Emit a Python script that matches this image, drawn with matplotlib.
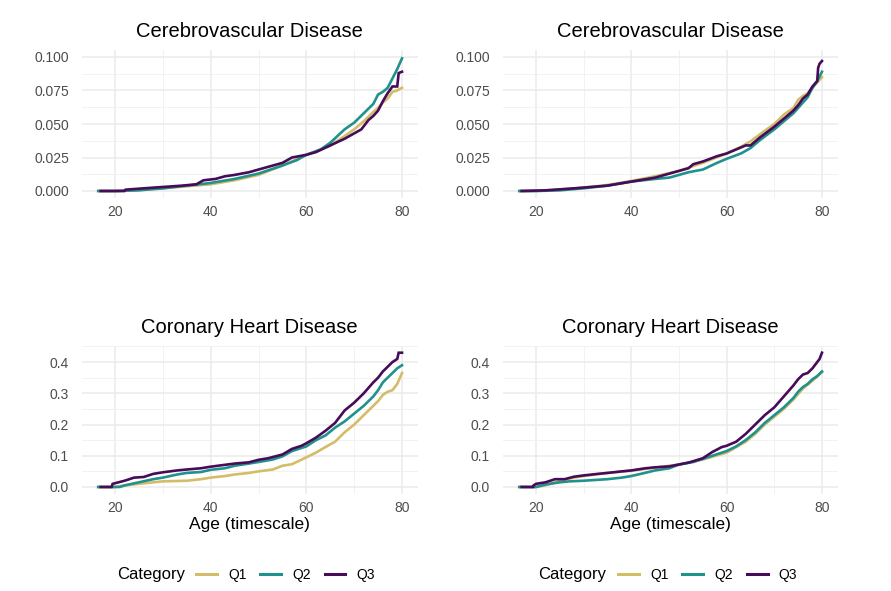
import numpy as np
import matplotlib.pyplot as plt
from matplotlib.lines import Line2D
from matplotlib.ticker import FormatStrFormatter, MultipleLocator

plt.rcParams['font.family'] = ['Liberation Sans', 'DejaVu Sans']

categories = ['Q1', 'Q2', 'Q3']
colors = {'Q1': '#D3BD69', 'Q2': '#21918C', 'Q3': '#470B59'}

# Cerebrovascular disease, left column
cv_left_age = {
    'Q1': [16.5, 20, 25, 30, 35, 40, 45, 50, 55, 60, 63, 65, 68, 70, 72, 74, 75, 76, 77, 78, 79, 80],
    'Q2': [16.5, 20, 25, 30, 35, 40, 45, 50, 55, 58, 60, 63, 65, 68, 70, 72, 74, 75, 76, 77, 78, 79, 80],
    'Q3': [17, 22, 22.2, 26, 30, 34, 37, 38.5, 41, 43, 45, 48, 50, 53, 55, 57, 60, 62, 65, 68, 70, 71.5,
           73, 74, 75, 76, 77, 78, 79, 79.3, 80],
}
cv_left_val = {
    'Q1': [0, 0, 0.0008, 0.002, 0.0035, 0.005, 0.008, 0.012, 0.019, 0.027, 0.031, 0.034, 0.041, 0.046,
           0.052, 0.059, 0.062, 0.066, 0.069, 0.074, 0.075, 0.077],
    'Q2': [0, 0, 0.0005, 0.002, 0.004, 0.006, 0.009, 0.013, 0.019, 0.023, 0.027, 0.031, 0.036, 0.046,
           0.051, 0.058, 0.065, 0.072, 0.074, 0.077, 0.084, 0.091, 0.099],
    'Q3': [0, 0, 0.001, 0.002, 0.003, 0.004, 0.005, 0.008, 0.009, 0.011, 0.012, 0.014, 0.016, 0.019,
           0.021, 0.025, 0.027, 0.029, 0.034, 0.039, 0.043, 0.046, 0.053, 0.056, 0.060, 0.067, 0.073,
           0.078, 0.078, 0.088, 0.089],
}

# Cerebrovascular disease, right column
cv_right_age = {
    'Q1': [16.5, 20, 25, 30, 35, 40, 45, 50, 55, 60, 63, 65, 68, 70, 72, 74, 75, 76, 77, 78, 79, 80],
    'Q2': [16.5, 20, 25, 30, 35, 40, 45, 48, 50, 52, 55, 58, 60, 63, 65, 67, 70, 72, 74, 76, 77, 78, 79, 80],
    'Q3': [17, 22, 28, 35, 40, 45, 48, 50, 52, 53, 55, 58, 60, 62, 64, 65, 67, 70, 72, 74, 75, 76, 77,
           78, 79, 79.2, 79.5, 80],
}
cv_right_val = {
    'Q1': [0, 0, 0.001, 0.0025, 0.0045, 0.0075, 0.011, 0.015, 0.021, 0.028, 0.033, 0.037, 0.045, 0.050,
           0.057, 0.062, 0.068, 0.071, 0.073, 0.077, 0.081, 0.085],
    'Q2': [0, 0, 0.0005, 0.002, 0.004, 0.007, 0.009, 0.010, 0.012, 0.014, 0.016, 0.021, 0.024, 0.028,
           0.032, 0.038, 0.046, 0.052, 0.058, 0.066, 0.070, 0.077, 0.082, 0.089],
    'Q3': [0, 0.0005, 0.002, 0.004, 0.007, 0.010, 0.013, 0.015, 0.017, 0.020, 0.022, 0.026, 0.028,
           0.031, 0.034, 0.034, 0.040, 0.048, 0.054, 0.060, 0.064, 0.069, 0.072, 0.078, 0.082, 0.092,
           0.095, 0.097],
}

# Coronary heart disease, left column
chd_left_age = {
    'Q1': [16.5, 20, 22, 25, 28, 30, 35, 38, 40, 43, 45, 48, 50, 53, 55, 57, 60, 62, 64, 66, 68, 70,
           72, 74, 75, 76, 77, 78, 79, 80],
    'Q2': [16.5, 21, 22, 25, 28, 30, 33, 35, 38, 40, 43, 45, 48, 50, 53, 55, 57, 60, 62, 64, 66, 68,
           70, 72, 74, 75, 76, 77, 78, 79, 80],
    'Q3': [17, 19.3, 19.5, 20, 22, 24, 26, 28, 30, 33, 35, 38, 40, 43, 45, 48, 50, 52, 55, 57, 59, 60,
           62, 64, 66, 68, 70, 72, 74, 75, 76, 77, 78, 79, 79.3, 80],
}
chd_left_val = {
    'Q1': [0, 0, 0.005, 0.010, 0.015, 0.018, 0.020, 0.025, 0.030, 0.035, 0.040, 0.045, 0.050, 0.056,
           0.068, 0.073, 0.095, 0.110, 0.128, 0.145, 0.175, 0.200, 0.230, 0.260, 0.275, 0.295, 0.305,
           0.310, 0.330, 0.365],
    'Q2': [0, 0, 0.005, 0.015, 0.025, 0.030, 0.040, 0.045, 0.048, 0.055, 0.060, 0.068, 0.075, 0.080,
           0.088, 0.098, 0.115, 0.130, 0.150, 0.165, 0.190, 0.210, 0.235, 0.260, 0.290, 0.310, 0.335,
           0.350, 0.365, 0.380, 0.390],
    'Q3': [0, 0, 0.010, 0.012, 0.020, 0.030, 0.032, 0.042, 0.047, 0.053, 0.056, 0.060, 0.065, 0.071,
           0.075, 0.079, 0.087, 0.092, 0.104, 0.122, 0.132, 0.140, 0.158, 0.180, 0.205, 0.245, 0.270,
           0.300, 0.335, 0.350, 0.370, 0.385, 0.400, 0.410, 0.430, 0.430],
}

# Coronary heart disease, right column
chd_right_age = {
    'Q1': [16.5, 20, 22, 25, 28, 30, 35, 40, 45, 48, 50, 55, 60, 64, 66, 68, 70, 72, 74, 76, 78, 80],
    'Q2': [16.5, 20, 22, 25, 27, 30, 35, 38, 40, 42, 45, 48, 50, 53, 55, 57, 60, 62, 64, 66, 68, 70,
           72, 74, 75, 76, 77, 78, 79, 80],
    'Q3': [17, 19.4, 19.5, 20, 22, 24, 26, 28, 30, 33, 35, 38, 40, 43, 45, 48, 50, 52, 55, 57, 59, 60,
           62, 64, 66, 68, 70, 72, 74, 75, 76, 77, 78, 79, 79.5, 80],
}
chd_right_val = {
    'Q1': [0, 0, 0.005, 0.020, 0.030, 0.035, 0.045, 0.052, 0.062, 0.068, 0.072, 0.088, 0.110, 0.145,
           0.170, 0.200, 0.225, 0.250, 0.280, 0.315, 0.340, 0.368],
    'Q2': [0, 0, 0.008, 0.015, 0.018, 0.020, 0.025, 0.030, 0.035, 0.042, 0.053, 0.060, 0.072, 0.080,
           0.090, 0.100, 0.115, 0.130, 0.150, 0.175, 0.205, 0.230, 0.255, 0.285, 0.305, 0.320, 0.330,
           0.345, 0.355, 0.370],
    'Q3': [0, 0, 0.005, 0.010, 0.015, 0.025, 0.025, 0.033, 0.037, 0.042, 0.045, 0.050, 0.053, 0.060,
           0.063, 0.066, 0.072, 0.078, 0.092, 0.112, 0.128, 0.132, 0.145, 0.170, 0.200, 0.230, 0.255,
           0.290, 0.325, 0.345, 0.360, 0.365, 0.380, 0.400, 0.410, 0.430],
}

W, H = 891, 591
fig = plt.figure(figsize=(W / 100, H / 100), dpi=100)


def add_ax(left, right, top, bottom):
    return fig.add_axes([left / W, 1 - bottom / H, (right - left) / W, (bottom - top) / H])


def draw(ax, ages, vals, title, yticks, fmt, ylim, xlabel=False):
    for c in categories:
        ax.plot(ages[c], vals[c], color=colors[c], lw=1.9, solid_joinstyle='miter')
    ax.set_xlim(13, 83.3)
    ax.set_ylim(*ylim)
    ax.set_xticks([20, 40, 60, 80])
    ax.xaxis.set_minor_locator(MultipleLocator(10))
    ax.set_yticks(yticks)
    ax.yaxis.set_minor_locator(MultipleLocator((yticks[1] - yticks[0]) / 2))
    ax.yaxis.set_major_formatter(FormatStrFormatter(fmt))
    ax.grid(True, which='major', color='#EBEBEB', lw=1.1)
    ax.grid(True, which='minor', color='#F2F2F2', lw=0.7)
    ax.set_axisbelow(True)
    for s in ax.spines.values():
        s.set_visible(False)
    ax.tick_params(which='both', length=0, labelsize=10, labelcolor='#4D4D4D')
    ax.tick_params(axis='y', pad=9)
    ax.tick_params(axis='x', pad=5)
    ax.set_title(title, fontsize=14.5, pad=9.5)
    if xlabel:
        ax.set_xlabel('Age (timescale)', fontsize=12.5, labelpad=2)


top_ticks = [0, 0.025, 0.05, 0.075, 0.1]
bot_ticks = [0, 0.1, 0.2, 0.3, 0.4]

ax1 = add_ax(81.5, 417.8, 50.3, 197.7)
draw(ax1, cv_left_age, cv_left_val, 'Cerebrovascular Disease', top_ticks, '%.3f', (-0.005, 0.105))
ax2 = add_ax(502.6, 837.7, 50.3, 197.7)
draw(ax2, cv_right_age, cv_right_val, 'Cerebrovascular Disease', top_ticks, '%.3f', (-0.005, 0.105))
ax3 = add_ax(81.5, 417.8, 346, 493.7)
draw(ax3, chd_left_age, chd_left_val, 'Coronary Heart Disease', bot_ticks, '%.1f', (-0.0215, 0.4515), True)
ax4 = add_ax(502.6, 837.7, 346, 493.7)
draw(ax4, chd_right_age, chd_right_val, 'Coronary Heart Disease', bot_ticks, '%.1f', (-0.0215, 0.4515), True)

# legends under each column
handles = [Line2D([], [], color=colors[c], lw=2.2) for c in categories]
for title_x, leg_x in [(117, 196), (538, 618)]:
    fig.text(title_x / W, 1 - 575 / H, 'Category', fontsize=12, va='center', ha='left')
    fig.legend(handles, categories, loc='center left', bbox_to_anchor=(leg_x / W, 1 - 575 / H),
               ncol=3, frameon=False, fontsize=10, handlelength=1.5, handletextpad=0.8,
               columnspacing=1.0, borderpad=0, borderaxespad=0)

fig.savefig('out.png', dpi=100, facecolor='white')
